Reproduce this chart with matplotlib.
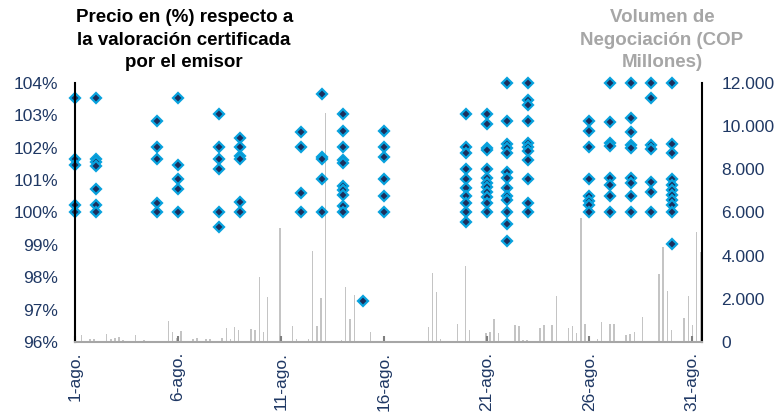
import matplotlib
matplotlib.use("Agg")
import matplotlib.pyplot as plt
from matplotlib.ticker import FuncFormatter

plt.rcParams['font.family'] = ['Liberation Sans', 'DejaVu Sans']

# price observations (% of certified valuation), one entry per trade
price_days = (
    [1] * 5 + [2] * 7 + [5] * 5 + [6] * 5 + [8] * 6 + [9] * 6 + [12] * 4
    + [13] * 5 + [14] * 10 + [15] * 1 + [16] * 6 + [20] * 10 + [21] * 12
    + [22] * 13 + [23] * 11 + [26] * 8 + [27] * 8 + [28] * 9 + [29] * 7
    + [30] * 11
)
price_values = [
    103.53, 101.65, 101.47, 100.23, 100.0,
    103.53, 101.65, 101.55, 101.45, 100.72, 100.23, 100.0,
    102.84, 102.01, 101.64, 100.29, 100.0,
    103.53, 101.47, 101.03, 100.72, 100.0,
    103.03, 102.01, 101.64, 101.33, 100.0, 99.56,
    102.29, 102.01, 101.75, 101.64, 100.33, 100.02,
    102.50, 102.01, 100.61, 100.02,
    103.66, 101.72, 101.65, 101.03, 100.0,
    103.03, 102.51, 102.01, 101.62, 101.52, 100.83, 100.68, 100.53, 100.21, 100.02,
    97.28,
    102.52, 102.01, 101.70, 101.03, 100.51, 100.0,
    103.03, 102.01, 101.85, 101.33, 101.03, 100.75, 100.51, 100.28, 100.02, 99.72,
    103.03, 102.72, 102.00, 101.93, 101.33, 101.05, 100.90, 100.78, 100.62, 100.49, 100.29, 100.02,
    104.0, 102.84, 102.12, 101.98, 101.83, 101.26, 101.05, 100.75, 100.51, 100.39, 100.02, 99.64, 99.13,
    104.0, 103.47, 103.32, 102.84, 102.16, 102.03, 101.91, 101.62, 101.03, 100.29, 100.02,
    102.84, 102.52, 102.01, 101.03, 100.51, 100.36, 100.23, 100.0,
    104.0, 102.78, 102.15, 102.05, 101.05, 100.85, 100.51, 100.02,
    104.0, 102.93, 102.50, 102.09, 101.98, 101.05, 100.90, 100.51, 100.02,
    104.0, 103.53, 102.09, 101.96, 100.95, 100.62, 100.02,
    104.0, 102.12, 101.83, 101.03, 100.85, 100.69, 100.54, 100.39, 100.23, 100.02, 99.04,
]

# traded volume (COP millions), by timestamp in days of August
vol_days = [
    1.33, 1.73, 1.92, 2.54, 2.75, 2.94, 3.14, 3.33, 3.95, 4.35,
    5.55, 5.75, 5.93, 6.15, 6.73, 6.93, 7.37, 7.56, 8.14, 8.36,
    8.56, 8.76, 8.95, 9.55, 9.75, 9.96, 10.15, 10.35, 10.96, 11.16,
    11.56, 11.76, 12.36, 12.55, 12.76, 12.95, 13.18, 13.96, 14.15, 14.36,
    14.57, 15.37, 15.72, 16.79, 16.99, 18.19, 18.36, 18.58, 18.77, 19.58,
    19.76, 19.98, 20.18, 20.97, 21.17, 21.37, 21.59, 22.38, 22.57, 22.77,
    22.96, 23.59, 23.79, 23.98, 24.19, 24.39, 24.99, 25.18, 25.38, 25.59,
    25.78, 26.40, 26.59, 27.00, 27.19, 27.78, 27.98, 28.19, 28.59, 29.38,
    29.58, 29.78, 29.99, 30.59, 30.80, 31.00, 31.19, 31.40,
]
vol_values = [
    320, 150, 150, 370, 150, 200, 250, 100, 330, 100,
    990, 460, 200, 500, 150, 200, 150, 150, 200, 650,
    150, 690, 550, 600, 550, 3000, 450, 2100, 5270, 60,
    740, 150, 150, 4220, 740, 2020, 10600, 100, 2530, 1080,
    2180, 450, 60, 40, 40, 710, 3180, 2300, 150, 830,
    40, 3520, 540, 400, 470, 1080, 400, 790, 720, 100,
    100, 650, 800, 40, 780, 2150, 660, 720, 400, 5730,
    830, 150, 930, 830, 830, 300, 380, 475, 1140, 3150,
    4420, 2380, 540, 1100, 2150, 790, 5080, 4180,
]

tick_days = [1, 6, 11, 16, 21, 26, 31]
tick_labels = ['1-ago.', '6-ago.', '11-ago.', '16-ago.', '21-ago.', '26-ago.', '31-ago.']

navy = '#1F3864'

fig = plt.figure(figsize=(7.77, 4.16), dpi=100)
ax = fig.add_axes([0.0965, 0.178, 0.807, 0.6225])
ax2 = ax.twinx()

# volume bars on the secondary axis, behind the prices
ax.set_zorder(2)
ax.patch.set_visible(False)
ax2.bar(vol_days, vol_values, width=0.07, color='#C4C4C4', linewidth=0)
ax2.set_ylim(0, 12000)
ax2.set_yticks(range(0, 12001, 2000))
ax2.yaxis.set_major_formatter(FuncFormatter(lambda v, p: f"{int(v):,}".replace(',', '.')))

ax.plot(price_days, price_values, ls='none', marker='D', ms=5.5,
        mfc='#1B2F5C', mec='#08A2DE', mew=1.6, clip_on=False)
ax.set_ylim(96, 104)
ax.set_yticks(range(96, 105))
ax.yaxis.set_major_formatter(FuncFormatter(lambda v, p: f"{int(v)}%"))
ax.set_xlim(1, 31.47)
ax.set_xticks(tick_days)
ax.set_xticklabels(tick_labels, rotation=90)

for a in (ax, ax2):
    for s in a.spines.values():
        s.set_visible(False)
ax.spines['left'].set_visible(True)
ax.spines['left'].set_color('black')
ax.spines['left'].set_linewidth(1.5)
ax2.spines['right'].set_visible(True)
ax2.spines['right'].set_color('black')
ax2.spines['right'].set_linewidth(1.5)
ax.spines['bottom'].set_visible(True)
ax.spines['bottom'].set_color('#A6A6A6')
ax.spines['bottom'].set_linewidth(1.5)

ax.tick_params(axis='x', direction='in', length=4, width=1.5, color='#7F7F7F',
               labelsize=12.5, labelcolor=navy, pad=7)
ax.tick_params(axis='y', length=0, labelsize=12.5, labelcolor=navy, pad=12)
ax2.tick_params(axis='y', length=0, labelsize=12.5, labelcolor=navy, pad=14)

fig.text(0.237, 0.978, 'Precio en (%) respecto a\nla valoración certificada\npor el emisor',
         ha='center', va='top', fontsize=13.5, fontweight='bold', color='black',
         linespacing=1.42)
fig.text(0.852, 0.978, 'Volumen de\nNegociación (COP\nMillones)',
         ha='center', va='top', fontsize=13.5, fontweight='bold', color='#A6A6A6',
         linespacing=1.42)

fig.savefig('out.png', dpi=100)
